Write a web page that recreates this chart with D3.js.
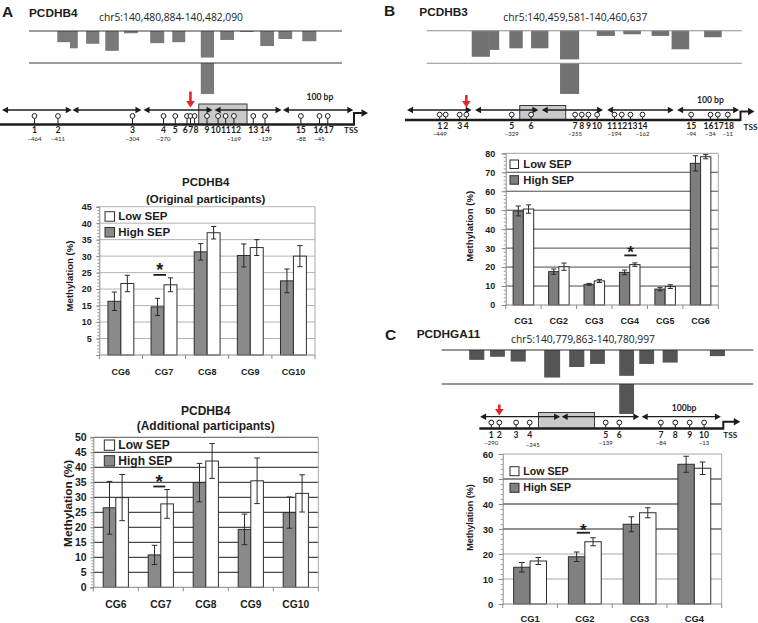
<!DOCTYPE html>
<html>
<head>
<meta charset="utf-8">
<script src="https://cdn.jsdelivr.net/npm/d3@7/dist/d3.min.js"></script>
<style>
html,body{margin:0;padding:0;background:#fff;}
svg{display:block;}
</style>
</head>
<body>
<svg id="chart" width="758" height="623"></svg>
<script>
// ================= DATA =================
const panelLetters = ["A", "B", "C"];
const geneNames = ["PCDHB4", "PCDHB3", "PCDHGA11"];
const regionLabels = ["chr5:140,480,884-140,482,090", "chr5:140,459,581-140,460,637", "chr5:140,779,863-140,780,997"];
const regionLengths = [1206, 1056, 1134];

// Genome-browser style tracks: bins (bp offset in region) and relative signal
const trackA_start = [109, 158, 220, 294, 366, 467, 552, 662, 737, 813, 891, 961, 1053];
const trackA_end   = [158, 188, 271, 346, 419, 521, 602, 713, 790, 866, 944, 1014, 1107];
const trackA_value = [0.35, 0.54, 0.40, 0.62, 0.07, 0.38, 0.35, 0.83, 0.28, 0.03, 0.47, 0.25, 0.32];
const trackA_lower = [662, 713, 0.97];

const trackB_start = [151, 212, 277, 350, 447, 570, 659, 754, 821, 930];
const trackB_end   = [212, 243, 322, 408, 511, 631, 718, 813, 880, 989];
const trackB_value = [0.80, 0.59, 0.54, 0.54, 0.88, 0.16, 0.11, 0.16, 0.57, 0.20];
const trackB_lower = [447, 511, 0.94];

const trackC_start = [100, 176, 251, 373, 464, 540, 646, 719, 804, 976];
const trackC_end   = [155, 230, 306, 431, 519, 594, 700, 773, 859, 1031];
const trackC_value = [0.29, 0.20, 0.34, 0.81, 0.50, 0.41, 0.76, 0.41, 0.37, 0.18];
const trackC_lower = [646, 700, 0.88];

// CpG sites (bp relative to TSS, schematic) and position notes
const cpgA_pos = [-463, -429, -321, -276, -259, -242, -237, -231, -213, -197, -186, -174, -146, -129, -77, -50, -38];
const cpgA_notes = [[1, "−464"], [2, "−411"], [3, "−304"], [4, "−270"], [12, "−169"], [14, "−129"], [15, "−88"], [16, "−45"]];
const ampA = [[-510, -409], [-408, -308], [-305, -205], [-202, -105], [-103, -1]];
const boxA = [-225, -155];
const redA = -237;

const cpgB_pos = [-451, -442, -421, -411, -343, -314, -248, -238, -228, -215, -189, -178, -165, -147, -74, -45, -34, -19];
const cpgB_notes = [[1, "−449"], [5, "−329"], [7, "−255"], [11, "−194"], [14, "−162"], [15, "−94"], [16, "−34"], [18, "−11"]];
const ampB = [[-500, -403], [-398, -303], [-298, -206], [-200, -100], [-95, -2]];
const boxB = [-331, -262];
const redB = -411;

const cpgC_pos = [-290, -280, -259, -242, -147, -130, -78, -60, -42, -24];
const cpgC_notes = [[1, "−290"], [4, "−245"], [5, "−139"], [7, "−84"], [10, "−13"]];
const ampC = [[-304, -204], [-202, -105], [-102, -3]];
const boxC = [-231, -161];
const redC = -280;

// Methylation bar charts
const seriesNames = ["Low SEP", "High SEP"];

const catsA = ["CG6", "CG7", "CG8", "CG9", "CG10"];
const a1Title = ["PCDHB4", "(Original participants)"];
const a1High = [16.3, 14.6, 31.3, 30.2, 22.5];
const a1HighErr = [2.8, 2.6, 2.5, 3.5, 3.6];
const a1Low = [21.7, 21.3, 37.1, 32.6, 30.0];
const a1LowErr = [2.5, 2.1, 1.9, 2.4, 3.2];
const a1Ticks = [5, 10, 15, 20, 25, 30, 35, 40, 45];

const a2Title = ["PCDHB4", "(Additional participants)"];
const a2High = [26.5, 10.8, 34.9, 19.3, 24.9];
const a2HighErr = [8.8, 3.2, 6.4, 5.1, 5.2];
const a2Low = [29.9, 27.8, 42.1, 35.5, 31.3];
const a2LowErr = [7.7, 4.8, 5.8, 7.6, 6.2];
const a2Ticks = [0, 5, 10, 15, 20, 25, 30, 35, 40, 45, 50];

const catsB = ["CG1", "CG2", "CG3", "CG4", "CG5", "CG6"];
const bHigh = [49.6, 17.6, 10.9, 17.2, 8.4, 74.7];
const bHighErr = [2.6, 1.4, 0.5, 1.2, 0.9, 4.0];
const bLow = [50.6, 20.2, 12.7, 21.3, 9.7, 78.2];
const bLowErr = [2.2, 1.9, 0.8, 0.9, 1.0, 1.1];
const bTicks = [0, 10, 20, 30, 40, 50, 60, 70, 80];

const catsC = ["CG1", "CG2", "CG3", "CG4"];
const cHigh = [14.7, 18.9, 31.9, 55.9];
const cHighErr = [1.9, 1.9, 3.0, 3.2];
const cLow = [17.2, 24.9, 36.5, 54.3];
const cLowErr = [1.4, 1.6, 2.0, 2.5];
const cTicks = [0, 10, 20, 30, 40, 50, 60];

// ================= DRAWING =================
const svg = d3.select("#chart");
svg.append("rect").attr("width", 758).attr("height", 623).attr("fill", "#fff");
const ARIAL = "'Liberation Sans', Arial, Helvetica, sans-serif";
const CAL = "Lato, 'Open Sans', sans-serif";
const SANS = "'Open Sans', 'Noto Sans', sans-serif";
const INK = "#1c1c1c";

function header(i, o) {
  svg.append("text").attr("x", o.lx).attr("y", o.ly).text(panelLetters[i])
    .attr("font-family", ARIAL).attr("font-weight", "bold").attr("font-size", 15.5).attr("fill", INK);
  svg.append("text").attr("x", o.gx).attr("y", o.gy).text(geneNames[i])
    .attr("font-family", ARIAL).attr("font-weight", "bold").attr("font-size", 11.8).attr("fill", INK);
  svg.append("text").attr("x", o.cx).attr("y", o.cy).text(regionLabels[i])
    .attr("font-family", SANS).attr("font-size", 10.3).attr("fill", "#222");
}

function track(i, o) {
  const g = svg.append("g");
  const x = d3.scaleLinear().domain([0, regionLengths[i]]).range([o.x0, o.x1]);
  const h = d3.scaleLinear().domain([0, 1]).range([0, o.y2 - o.y1]);
  g.selectAll("rect.bin").data(d3.range(o.start.length)).join("rect")
    .attr("x", k => x(o.start[k])).attr("width", k => x(o.end[k]) - x(o.start[k]))
    .attr("y", o.y1).attr("height", k => h(o.value[k])).attr("fill", o.fill);
  g.append("rect").attr("x", x(o.lower[0])).attr("width", x(o.lower[1]) - x(o.lower[0]))
    .attr("y", o.y2).attr("height", h(o.lower[2])).attr("fill", o.fill);
  [o.y1, o.y2].forEach(yy => g.append("line").attr("x1", o.x0).attr("x2", o.x1)
    .attr("y1", yy).attr("y2", yy).attr("stroke", o.line).attr("stroke-width", 1.1));
}

// spread overlapping labels apart (keeps groups centred)
function relax(xs, widths, gap) {
  const p = xs.slice();
  for (let it = 0; it < 300; it++) {
    let moved = false;
    for (let k = 0; k < p.length - 1; k++) {
      const need = (widths[k] + widths[k + 1]) / 2 + gap;
      const d = p[k + 1] - p[k];
      if (d < need - 0.01) { const m = (need - d) / 2; p[k] -= m; p[k + 1] += m; moved = true; }
    }
    if (!moved) break;
  }
  return p;
}

function diagram(o) {
  const g = svg.append("g");
  const x = d3.scaleLinear().domain([o.bpStart, 0]).range([o.x0, o.xT]);
  g.append("rect").attr("x", x(o.box[0])).attr("y", o.boxTop)
    .attr("width", x(o.box[1]) - x(o.box[0])).attr("height", o.main - o.boxTop)
    .attr("fill", "#c9c9c9").attr("stroke", "#3a3a3a").attr("stroke-width", 1);
  g.append("line").attr("x1", x(o.bpStart)).attr("x2", x(0)).attr("y1", o.main).attr("y2", o.main)
    .attr("stroke", INK).attr("stroke-width", 2.6);
  const tx = x(0);
  g.append("path").attr("d", `M${tx},${o.main + 1}V${o.tssTop}H${tx + o.tssLen - 5}`)
    .attr("fill", "none").attr("stroke", INK).attr("stroke-width", 2);
  g.append("path").attr("d", `M${tx + o.tssLen},${o.tssTop}l-6.5,-3.8v7.6z`).attr("fill", INK);
  o.amps.forEach(([a, b]) => {
    const xa = x(a), xb = x(b);
    g.append("line").attr("x1", xa + 3).attr("x2", xb - 3).attr("y1", o.arrowY).attr("y2", o.arrowY)
      .attr("stroke", INK).attr("stroke-width", 1.3);
    g.append("path").attr("d", `M${xa},${o.arrowY}l6,-3.3v6.6z M${xb},${o.arrowY}l-6,-3.3v6.6z`).attr("fill", INK);
  });
  const r = 2.4;
  g.selectAll("line.stem").data(o.cpg).join("line")
    .attr("x1", d => x(d)).attr("x2", d => x(d)).attr("y1", o.circleY + r).attr("y2", o.main)
    .attr("stroke", INK).attr("stroke-width", 1);
  g.selectAll("circle").data(o.cpg).join("circle")
    .attr("cx", d => x(d)).attr("cy", o.circleY).attr("r", r)
    .attr("fill", "#fff").attr("stroke", INK).attr("stroke-width", 1);
  const fs = 8.6;
  const labels = o.cpg.map((d, k) => String(k + 1));
  const lw = labels.map(t => t.length * 0.56 * fs);
  const lxs = relax(o.cpg.map(d => x(d)), lw, 0.6);
  g.selectAll("text.num").data(labels).join("text")
    .attr("x", (d, k) => lxs[k]).attr("y", o.labelY).attr("text-anchor", "middle")
    .text(d => d)
    .attr("font-family", CAL).attr("font-weight", "bold").attr("font-size", fs).attr("fill", INK);
  g.selectAll("text.note").data(o.notes).join("text")
    .attr("x", d => x(o.cpg[d[0] - 1]) + (d[3] || 0)).attr("y", d => o.noteY + (d[2] || 0)).attr("text-anchor", "middle")
    .text(d => d[1])
    .attr("font-family", CAL).attr("font-size", 6).attr("fill", INK);
  const rx = x(o.red);
  g.append("line").attr("x1", rx).attr("x2", rx).attr("y1", o.redTop).attr("y2", o.redTip - 5)
    .attr("stroke", "#e3262b").attr("stroke-width", 2.6);
  g.append("path").attr("d", `M${rx},${o.redTip}l-4.3,-6.5h8.6z`).attr("fill", "#e3262b");
  g.append("text").attr("x", o.bpX).attr("y", o.bpY).text(o.bpText)
    .attr("font-family", CAL).attr("font-weight", "bold").attr("font-size", 8.6).attr("fill", INK);
  g.append("text").attr("x", tx + o.tssDx).attr("y", o.labelY + (o.tssDy || 0)).attr("text-anchor", "middle").text("TSS")
    .attr("font-family", CAL).attr("font-weight", "bold").attr("font-size", 8.3).attr("fill", INK);
}

function barChart(o) {
  const g = svg.append("g");
  const x = d3.scaleBand().domain(o.cats).range([o.left, o.right]);
  const y = d3.scaleLinear().domain([0, o.max]).range([o.bottom, o.top]);
  const step = x.step(), bw = step * o.barFrac;
  // gridlines
  g.selectAll("line.grid").data(d3.range(o.step, o.max + 1e-6, o.step)).join("line")
    .attr("x1", o.left).attr("x2", o.right).attr("y1", d => y(d)).attr("y2", d => y(d))
    .attr("stroke", d => o.gridColor(d)).attr("stroke-width", 1);
  g.append("line").attr("x1", o.right).attr("x2", o.right).attr("y1", o.top).attr("y2", o.bottom)
    .attr("stroke", "#a8a8a8").attr("stroke-width", 1);
  // minor ticks
  g.append("g").attr("transform", `translate(${o.left},0)`)
    .call(d3.axisLeft(y).tickValues(d3.range(0, o.max + 1e-6, o.minor)).tickSize(2).tickFormat(""))
    .call(s => s.select(".domain").remove())
    .call(s => s.selectAll("line").attr("stroke", "#9a9a9a"));
  // left axis
  const ax = g.append("g").attr("transform", `translate(${o.left},0)`)
    .call(d3.axisLeft(y).tickValues(o.ticks).tickSize(o.tickLen).tickPadding(o.tickPad));
  ax.select(".domain").attr("stroke", "#8a8a8a");
  ax.selectAll("line").attr("stroke", "#8a8a8a");
  ax.selectAll("text").attr("font-family", ARIAL).attr("font-weight", "bold")
    .attr("font-size", o.tickFs).attr("fill", INK);
  // bars
  const idx = d3.range(o.cats.length);
  const hx = k => x(o.cats[k]) + step / 2 - bw;
  const lx = k => x(o.cats[k]) + step / 2;
  g.selectAll("rect.high").data(idx).join("rect")
    .attr("x", hx).attr("width", bw).attr("y", k => y(o.high[k])).attr("height", k => y(0) - y(o.high[k]))
    .attr("fill", o.highFill).attr("stroke", "#2e2e2e").attr("stroke-width", 1);
  g.selectAll("rect.low").data(idx).join("rect")
    .attr("x", lx).attr("width", bw).attr("y", k => y(o.low[k])).attr("height", k => y(0) - y(o.low[k]))
    .attr("fill", "#fff").attr("stroke", "#2e2e2e").attr("stroke-width", 1);
  // error bars
  const cap = o.cap;
  const err = [];
  idx.forEach(k => {
    err.push({cx: hx(k) + bw / 2, v: o.high[k], e: o.highErr[k]});
    err.push({cx: lx(k) + bw / 2, v: o.low[k], e: o.lowErr[k]});
  });
  const eg = g.selectAll("g.err").data(err).join("g").attr("stroke", "#2a2a2a").attr("stroke-width", 1);
  eg.append("line").attr("x1", d => d.cx).attr("x2", d => d.cx).attr("y1", d => y(d.v - d.e)).attr("y2", d => y(d.v + d.e));
  eg.append("line").attr("x1", d => d.cx - cap).attr("x2", d => d.cx + cap).attr("y1", d => y(d.v + d.e)).attr("y2", d => y(d.v + d.e));
  eg.append("line").attr("x1", d => d.cx - cap).attr("x2", d => d.cx + cap).attr("y1", d => y(d.v - d.e)).attr("y2", d => y(d.v - d.e));
  // bottom axis
  g.append("line").attr("x1", o.left).attr("x2", o.right).attr("y1", o.bottom).attr("y2", o.bottom)
    .attr("stroke", "#8a8a8a").attr("stroke-width", 1);
  g.selectAll("line.bt").data(o.cats.concat(["_end"])).join("line")
    .attr("x1", d => d === "_end" ? o.right : x(d)).attr("x2", d => d === "_end" ? o.right : x(d))
    .attr("y1", o.bottom).attr("y2", o.bottom + 4).attr("stroke", "#8a8a8a");
  g.selectAll("text.cat").data(o.cats).join("text")
    .attr("x", d => x(d) + step / 2).attr("y", o.catY).attr("text-anchor", "middle").text(d => d)
    .attr("font-family", ARIAL).attr("font-weight", "bold").attr("font-size", o.catFs).attr("fill", INK);
  // y label
  g.append("text").attr("transform", `translate(${o.ylabX},${o.ylabY}) rotate(-90)`)
    .attr("text-anchor", "middle").attr("dominant-baseline", "central").text("Methylation (%)")
    .attr("font-family", ARIAL).attr("font-weight", "bold").attr("font-size", o.ylabFs).attr("fill", INK);
  // title
  if (o.title) {
    o.title.forEach((t, k) => g.append("text").attr("x", o.titleX).attr("y", o.titleY[k])
      .attr("text-anchor", "middle").text(t)
      .attr("font-family", ARIAL).attr("font-weight", "bold").attr("font-size", o.titleFs).attr("fill", INK));
  }
  // legend
  const fills = ["#fff", o.highFill];
  seriesNames.forEach((nm, k) => {
    g.append("rect").attr("x", o.legX).attr("y", o.legY[k]).attr("width", o.legSq).attr("height", o.legSq)
      .attr("fill", fills[k]).attr("stroke", "#2e2e2e").attr("stroke-width", 1);
    g.append("text").attr("x", o.legTx).attr("y", o.legBase[k]).text(nm)
      .attr("font-family", ARIAL).attr("font-weight", "bold").attr("font-size", o.legFs).attr("fill", INK);
  });
  // significance
  const s = o.star;
  const top = Math.max(o.high[s] + o.highErr[s], o.low[s] + o.lowErr[s]);
  const dy = y(top) - o.dashGap;
  const cxs = x(o.cats[s]) + step / 2 - o.starShift;
  g.append("line").attr("x1", cxs - o.dashHalf).attr("x2", cxs + o.dashHalf).attr("y1", dy).attr("y2", dy)
    .attr("stroke", INK).attr("stroke-width", 1.8);
  g.append("text").attr("x", cxs).attr("y", dy - o.starGap + 0.57 * o.starFs).attr("text-anchor", "middle").text("*")
    .attr("font-family", ARIAL).attr("font-weight", "bold").attr("font-size", o.starFs).attr("fill", INK);
}

// ---------- Panel A ----------
header(0, {lx: 2, ly: 17, gx: 29, gy: 17, cx: 99, cy: 20.5});
track(0, {x0: 29, x1: 342, y1: 31, y2: 63, start: trackA_start, end: trackA_end, value: trackA_value,
  lower: trackA_lower, fill: "#7a7a7a", line: "#3a3a3a"});
diagram({bpStart: -513, x0: 0, xT: 354, main: 124.5, arrowY: 110, circleY: 116, labelY: 132.5, noteY: 140.5,
  boxTop: 104, tssTop: 113, tssLen: 14, cpg: cpgA_pos, notes: cpgA_notes, amps: ampA, box: boxA,
  red: redA, redTop: 91.5, redTip: 107.5, bpX: 306.5, bpY: 100, bpText: "100 bp", tssDx: -3});

barChart({cats: catsA, high: a1High, highErr: a1HighErr, low: a1Low, lowErr: a1LowErr,
  left: 99.3, right: 315, top: 206.7, bottom: 355, max: 45, step: 5, minor: 1, ticks: a1Ticks,
  gridColor: d => "#b3b3b3", tickLen: 3, tickPad: 4.5, tickFs: 9, catY: 374.5, catFs: 9,
  barFrac: 0.3, highFill: "#8a8a8a", cap: 2.6,
  ylabX: 69.3, ylabY: 276, ylabFs: 9.6, title: a1Title, titleX: 205.7, titleY: [185.5, 202.5], titleFs: 11.5,
  legX: 105, legY: [211.7, 227.5], legSq: 9.5, legTx: 118.3, legBase: [220, 235.5], legFs: 11.5,
  star: 1, dashGap: 3, dashHalf: 6.3, starShift: 4.3, starGap: 9.5, starFs: 18});

barChart({cats: catsA, high: a2High, highErr: a2HighErr, low: a2Low, lowErr: a2LowErr,
  left: 93.3, right: 318.3, top: 437.3, bottom: 587.3, max: 50, step: 5, minor: 1, ticks: a2Ticks,
  gridColor: d => d === 50 ? "#555" : "#1e1e1e", tickLen: 3, tickPad: 3.6, tickFs: 10.5, catY: 608, catFs: 10.3,
  barFrac: 0.28, highFill: "#8a8a8a", cap: 2.8,
  ylabX: 68.3, ylabY: 503.3, ylabFs: 11.8, title: a2Title, titleX: 205.7, titleY: [415, 430], titleFs: 12,
  legX: 104.3, legY: [440, 455.7], legSq: 10.3, legTx: 118.3, legBase: [449.3, 465], legFs: 12,
  star: 1, dashGap: 3, dashHalf: 6, starShift: 1.5, starGap: 9, starFs: 19});

// ---------- Panel B ----------
header(1, {lx: 384, ly: 15.5, gx: 419.3, gy: 15.5, cx: 503.3, cy: 20.5});
track(1, {x0: 426.7, x1: 741.7, y1: 30.7, y2: 63.3, start: trackB_start, end: trackB_end, value: trackB_value,
  lower: trackB_lower, fill: "#727272", line: "#8c8c8c"});
diagram({bpStart: -503, x0: 405, xT: 740.5, main: 120, arrowY: 110, circleY: 114.6, labelY: 128.8, noteY: 136,
  boxTop: 105.5, tssTop: 111.5, tssLen: 14, cpg: cpgB_pos, notes: cpgB_notes, amps: ampB, box: boxB,
  red: redB, redTop: 95, redTip: 107.5, bpX: 697, bpY: 102.5, bpText: "100 bp", tssDx: 10, tssDy: 1.5});

barChart({cats: catsB, high: bHigh, highErr: bHighErr, low: bLow, lowErr: bLowErr,
  left: 505.7, right: 718.3, top: 153.3, bottom: 305, max: 80, step: 10, minor: 2, ticks: bTicks,
  gridColor: d => d === 80 ? "#a0a0a0" : "#4a4a4a", tickLen: 4, tickPad: 6.5, tickFs: 9, catY: 324, catFs: 9,
  barFrac: 0.29, highFill: "#7e7e7e", cap: 2.6,
  ylabX: 469.3, ylabY: 226.3, ylabFs: 9.6, title: null,
  legX: 510, legY: [160, 175.7], legSq: 8.5, legTx: 523.3, legBase: [167.7, 183.5], legFs: 11.3,
  star: 3, dashGap: 7.5, dashHalf: 6.2, starShift: -0.8, starGap: 7, starFs: 17});

// ---------- Panel C ----------
header(2, {lx: 385, ly: 340, gx: 416.7, gy: 337.5, cx: 511, cy: 343});
track(2, {x0: 441.7, x1: 753.3, y1: 350, y2: 384, start: trackC_start, end: trackC_end, value: trackC_value,
  lower: trackC_lower, fill: "#555555", line: "#2e2e2e"});
diagram({bpStart: -305, x0: 479.3, xT: 723.3, main: 428.5, arrowY: 416.7, circleY: 422.5, labelY: 437.7, noteY: 444.5,
  boxTop: 412.5, tssTop: 421.8, tssLen: 17, cpg: cpgC_pos, notes: cpgC_notes.map(d => d[0] === 4 ? [d[0], d[1], 2, 3] : d),
  amps: ampC, box: boxC, red: redC, redTop: 404.5, redTip: 415.5, bpX: 671.7, bpY: 411, bpText: "100bp", tssDx: 7});

barChart({cats: catsC, high: cHigh, highErr: cHighErr, low: cLow, lowErr: cLowErr,
  left: 502.7, right: 721.7, top: 454, bottom: 604, max: 60, step: 10, minor: 2, ticks: cTicks,
  gridColor: d => (d >= 30 && d <= 50) ? "#1e1e1e" : "#a8a8a8", tickLen: 4, tickPad: 5.4, tickFs: 9.5, catY: 621.5, catFs: 9.4,
  barFrac: 0.3, highFill: "#808080", cap: 2.8,
  ylabX: 470, ylabY: 517.5, ylabFs: 9, title: null,
  legX: 510, legY: [466.7, 483.3], legSq: 9, legTx: 523.3, legBase: [475.3, 491.3], legFs: 10.6,
  star: 1, dashGap: 5, dashHalf: 6.6, starShift: 1.5, starGap: 6.5, starFs: 17});
</script>
</body>
</html>
